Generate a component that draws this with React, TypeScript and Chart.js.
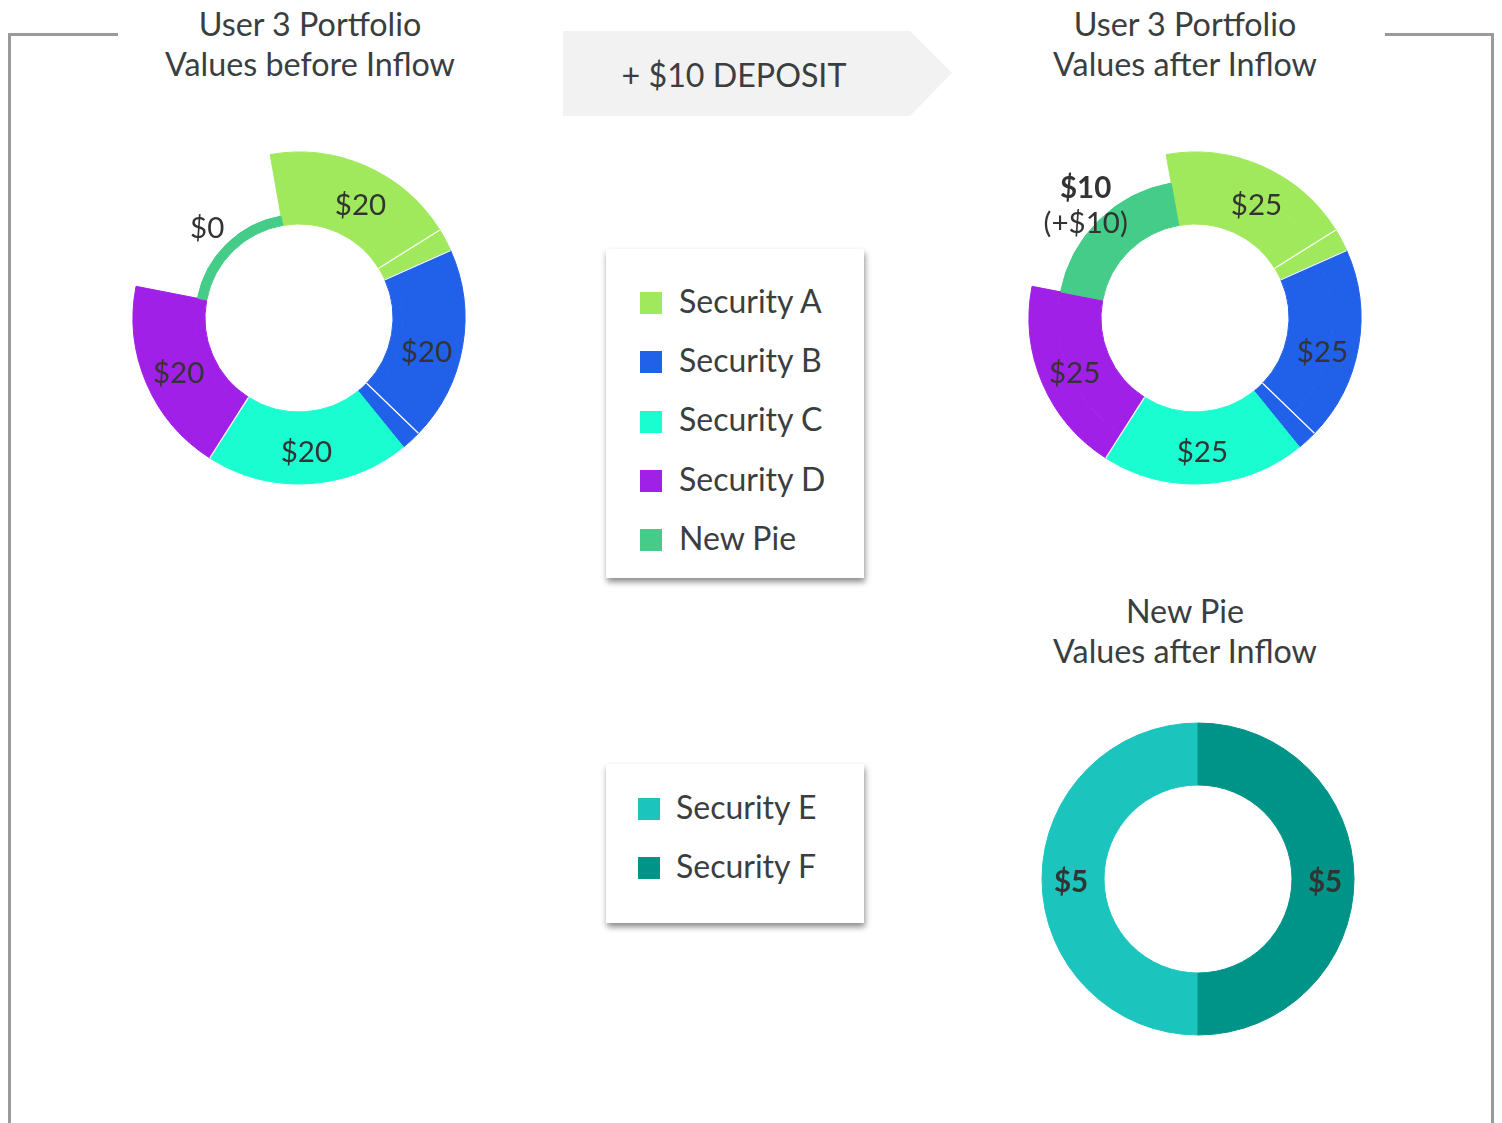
import React, { useEffect, useRef } from 'react';
import { Chart, registerables } from 'chart.js';

Chart.register(...registerables);

// ---------- data ----------
const securities = ['Security A', 'Security B', 'Security C', 'Security D', 'New Pie'];
const securityColors = ['#a0e85c', '#2160e8', '#1afdd0', '#a120e8', '#44cc88'];
const valuesBefore = [20, 20, 20, 20, 0];
const valuesAfter = [25, 25, 25, 25, 10];
const inflow = [0, 0, 0, 0, 10];

// slices as drawn (a security can be split into several lots)
const sliceOwners = [0, 0, 1, 1, 2, 3, 4];
const sliceSpans = [68, 8, 68, 7, 71.5, 68.5, 69];

const newPieSecurities = ['Security E', 'Security F'];
const newPieColors = ['#1bc5be', '#009488'];
const newPieValues = [5, 5];

const depositText = '+ $10 DEPOSIT';

// ---------- styling ----------
const FONT = 'Lato, "Open Sans", sans-serif';
const TEXT = '#3a3e3f';
const LABEL = '#333333';
const LABEL_SIZE = 29.5;
const sliceSeparators = [false, true, true, true, false, true, false];

type Line = { text: string; bold?: boolean };

function makeLabelPlugin(owners: number[], groupCount: number, lines: Line[][], radii: number[], lineGap: number, separators?: boolean[]) {
  return {
    id: 'segmentLabels',
    afterDatasetsDraw(chart: any) {
      const ctx = chart.ctx as CanvasRenderingContext2D;
      const n = chart.data.datasets.length;
      const arcs = chart.getDatasetMeta(n - 1).data as any[];
      const outerArcs = chart.getDatasetMeta(0).data as any[];
      if (separators) {
        ctx.save();
        ctx.strokeStyle = '#ffffff';
        ctx.lineWidth = 1.3;
        arcs.forEach((a, i) => {
          if (!separators[i]) return;
          const ang = a.startAngle;
          const r0 = a.innerRadius;
          const r1 = outerArcs[i].outerRadius;
          ctx.beginPath();
          ctx.moveTo(a.x + r0 * Math.cos(ang), a.y + r0 * Math.sin(ang));
          ctx.lineTo(a.x + r1 * Math.cos(ang), a.y + r1 * Math.sin(ang));
          ctx.stroke();
        });
        ctx.restore();
      }
      ctx.save();
      ctx.textAlign = 'center';
      ctx.textBaseline = 'alphabetic';
      ctx.fillStyle = LABEL;
      for (let g = 0; g < groupCount; g++) {
        const idx = owners.map((o, i) => (o === g ? i : -1)).filter((i) => i >= 0);
        if (!idx.length) continue;
        const first = arcs[idx[0]];
        const last = arcs[idx[idx.length - 1]];
        const mid = (first.startAngle + last.endAngle) / 2;
        const r = radii[g];
        const x = first.x + r * Math.cos(mid);
        const y = first.y + r * Math.sin(mid);
        const ls = lines[g];
        const dy = ls.length > 1 ? -2 : 2.5;
        const top = y - ((ls.length - 1) * lineGap) / 2 + dy;
        ls.forEach((l, k) => {
          ctx.font = `${l.bold ? 'bold ' : ''}${LABEL_SIZE}px ${FONT}`;
          ctx.fillText(l.text, x, top + k * lineGap + 0.358 * LABEL_SIZE);
        });
      }
      ctx.restore();
    },
  };
}

function portfolioConfig(values: number[], outerWeight: number, innerWeight: number, lines: Line[][], radii: number[]) {
  const max = Math.max(...values);
  const outerColors = sliceOwners.map((o) => (values[o] === max ? securityColors[o] : 'rgba(0,0,0,0)'));
  const innerColors = sliceOwners.map((o) => securityColors[o]);
  return {
    type: 'doughnut' as const,
    data: {
      labels: sliceOwners.map((o) => securities[o]),
      datasets: [
        { data: sliceSpans, backgroundColor: outerColors, borderColor: outerColors, borderWidth: 1, weight: outerWeight },
        { data: sliceSpans, backgroundColor: innerColors, borderColor: innerColors, borderWidth: 1, weight: innerWeight },
      ],
    },
    options: {
      animation: false as const,
      responsive: false,
      maintainAspectRatio: false,
      events: [],
      rotation: -10,
      radius: 166,
      cutout: `${(94 / 166) * 100}%`,
      layout: { padding: 0 },
      plugins: { legend: { display: false }, tooltip: { enabled: false } },
    },
    plugins: [makeLabelPlugin(sliceOwners, securities.length, lines, radii, 35, sliceSeparators)],
  };
}

function DonutCanvas({ config, cx, cy }: { config: () => any; cx: number; cy: number }) {
  const ref = useRef<HTMLCanvasElement>(null);
  useEffect(() => {
    if (!ref.current) return;
    const chart = new Chart(ref.current, config());
    return () => chart.destroy();
  }, []);
  return (
    <canvas
      ref={ref}
      width={400}
      height={400}
      style={{ position: 'absolute', left: cx - 200, top: cy - 200, width: 400, height: 400 }}
    />
  );
}

function Title({ lines, cx, top }: { lines: string[]; cx: number; top: number }) {
  return (
    <div
      style={{
        position: 'absolute',
        left: cx - 250,
        top,
        width: 500,
        textAlign: 'center',
        fontSize: 32.3,
        lineHeight: '40px',
        color: TEXT,
        whiteSpace: 'nowrap',
      }}
    >
      {lines.map((l) => (
        <div key={l}>{l}</div>
      ))}
    </div>
  );
}

function LegendBox({ names, colors, left, top, width, height, padLeft, firstTop, textLeft }: any) {
  return (
    <div
      style={{
        position: 'absolute',
        left,
        top,
        width,
        height,
        background: '#fff',
        boxShadow: '1px 4px 6px rgba(0,0,0,0.45)',
      }}
    >
      {names.map((n: string, i: number) => {
        const sq = firstTop + i * 59.3;
        return (
          <React.Fragment key={n}>
            <div style={{ position: 'absolute', left: padLeft, top: sq, width: 22, height: 22, background: colors[i] }} />
            <div
              style={{
                position: 'absolute',
                left: textLeft,
                top: sq + 22 - 33.4,
                fontSize: 32,
                lineHeight: '40px',
                color: TEXT,
                whiteSpace: 'nowrap',
              }}
            >
              {n}
            </div>
          </React.Fragment>
        );
      })}
    </div>
  );
}

export default function App() {
  const beforeLines: Line[][] = valuesBefore.map((v) => [{ text: `$${v}` }]);
  const afterLines: Line[][] = valuesAfter.map((v, i) =>
    inflow[i] > 0 ? [{ text: `$${v}`, bold: true }, { text: `(+$${inflow[i]})` }] : [{ text: `$${v}` }]
  );
  const afterRadii = valuesAfter.map((_, i) => (inflow[i] > 0 ? 156 : 131));

  const bottomConfig = () => ({
    type: 'doughnut' as const,
    data: {
      labels: newPieSecurities,
      datasets: [
        { data: newPieValues, backgroundColor: newPieColors, borderColor: newPieColors, borderWidth: 1 },
      ],
    },
    options: {
      animation: false as const,
      responsive: false,
      maintainAspectRatio: false,
      events: [],
      rotation: 180,
      radius: 156,
      cutout: `${(94 / 156) * 100}%`,
      layout: { padding: 0 },
      plugins: { legend: { display: false }, tooltip: { enabled: false } },
    },
    plugins: [
      makeLabelPlugin(
        [0, 1],
        2,
        newPieValues.map((v) => [{ text: `$${v}`, bold: true }]),
        [127, 127],
        35
      ),
    ],
  });

  const line = (left: number, top: number, width: number, height: number) => (
    <div style={{ position: 'absolute', left, top, width, height, background: '#9a9a9a' }} />
  );

  return (
    <div
      style={{
        position: 'absolute',
        left: 0,
        top: 0,
        width: 1502,
        height: 1123,
        overflow: 'hidden',
        background: '#fff',
        fontFamily: FONT,
      }}
    >
      {line(8, 33, 3, 1100)}
      {line(8, 33, 110, 3)}
      {line(1385, 33, 109, 3)}
      {line(1491, 33, 3, 1100)}

      <Title lines={['User 3 Portfolio', 'Values before Inflow']} cx={310} top={4} />
      <Title lines={['User 3 Portfolio', 'Values after Inflow']} cx={1185} top={4} />
      <Title lines={['New Pie', 'Values after Inflow']} cx={1185} top={591} />

      <div
        style={{
          position: 'absolute',
          left: 563,
          top: 31,
          width: 389,
          height: 85,
          background: '#f2f2f2',
          clipPath: 'polygon(0 0, 347px 0, 389px 42px, 347px 85px, 0 85px)',
        }}
      />
      <div
        style={{
          position: 'absolute',
          left: 534,
          top: 55,
          width: 400,
          textAlign: 'center',
          fontSize: 32.2,
          lineHeight: '40px',
          color: TEXT,
          whiteSpace: 'nowrap',
        }}
      >
        {depositText}
      </div>

      <DonutCanvas config={() => portfolioConfig(valuesBefore, 62.5, 9.5, beforeLines, valuesBefore.map(() => 131))} cx={299} cy={318} />
      <DonutCanvas config={() => portfolioConfig(valuesAfter, 29, 43, afterLines, afterRadii)} cx={1195} cy={318} />
      <DonutCanvas config={bottomConfig} cx={1198} cy={879} />

      <LegendBox
        names={securities}
        colors={securityColors}
        left={606}
        top={249}
        width={258}
        height={329}
        padLeft={34}
        firstTop={43}
        textLeft={73}
      />
      <LegendBox
        names={newPieSecurities}
        colors={newPieColors}
        left={606}
        top={764}
        width={258}
        height={159}
        padLeft={32}
        firstTop={34}
        textLeft={70}
      />
    </div>
  );
}
